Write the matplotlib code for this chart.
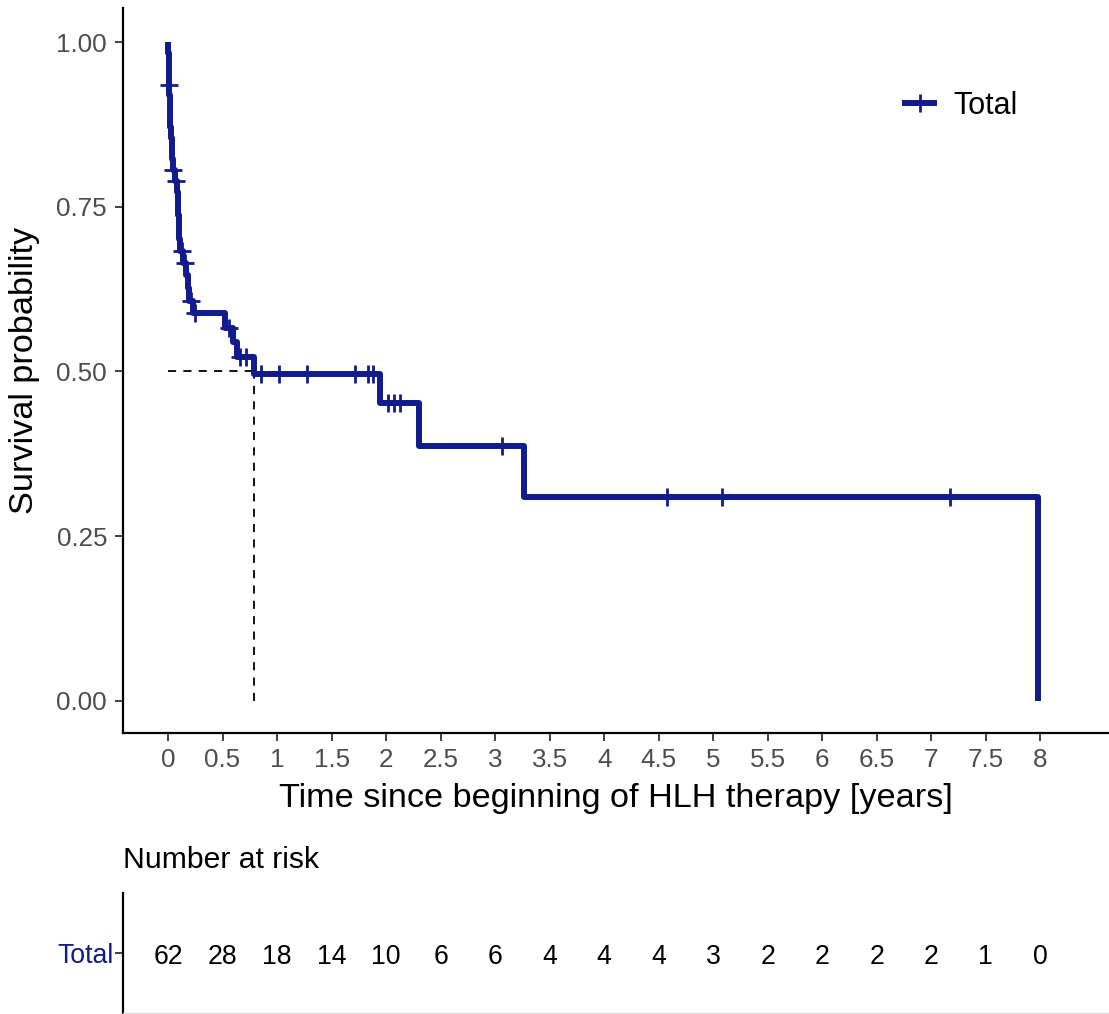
import matplotlib
matplotlib.use("Agg")
import matplotlib.pyplot as plt
import numpy as np

plt.rcParams['font.family'] = ['Liberation Sans', 'DejaVu Sans']

# Kaplan-Meier step curve (time in years, survival after the step)
step_times = [0.000, 0.003, 0.005, 0.007, 0.009, 0.012, 0.015, 0.018, 0.021, 0.025,
              0.032, 0.040, 0.048, 0.060, 0.080, 0.088, 0.094, 0.099, 0.104, 0.110,
              0.140, 0.165, 0.180, 0.195, 0.225, 0.523, 0.600, 0.630, 0.790, 1.940,
              2.300, 3.260, 7.980]
step_surv = [1.000, 0.984, 0.968, 0.952, 0.935, 0.919, 0.903, 0.887, 0.871, 0.855,
             0.839, 0.822, 0.806, 0.789, 0.772, 0.754, 0.737, 0.719, 0.701, 0.683,
             0.665, 0.646, 0.627, 0.607, 0.588, 0.566, 0.545, 0.522, 0.496, 0.452,
             0.387, 0.309, 0.000]

# censoring times
censor_times = [0.010, 0.050, 0.075, 0.130, 0.155, 0.210, 0.245, 0.560, 0.660, 0.715,
                0.850, 1.020, 1.270, 1.710, 1.830, 1.880, 2.020, 2.070, 2.130, 3.060,
                4.580, 5.080, 7.170]

median_time = 0.79

risk_times = [0, 0.5, 1, 1.5, 2, 2.5, 3, 3.5, 4, 4.5, 5, 5.5, 6, 6.5, 7, 7.5, 8]
risk_counts = [62, 28, 18, 14, 10, 6, 6, 4, 4, 4, 3, 2, 2, 2, 2, 1, 0]

x_ticks = [0, 0.5, 1, 1.5, 2, 2.5, 3, 3.5, 4, 4.5, 5, 5.5, 6, 6.5, 7, 7.5, 8]
x_tick_labels = ['0', '0.5', '1', '1.5', '2', '2.5', '3', '3.5', '4', '4.5', '5',
                 '5.5', '6', '6.5', '7', '7.5', '8']
y_ticks = [0, 0.25, 0.5, 0.75, 1.0]
y_tick_labels = ['0.00', '0.25', '0.50', '0.75', '1.00']

color = '#111B8C'
tick_gray = '#4D4D4D'

W, H = 1109, 1014
fig = plt.figure(figsize=(W / 100, H / 100), dpi=100)

def fx(px):
    return px / W

def fy(py):
    return 1 - py / H

ax = fig.add_axes([fx(123), fy(733), fx(1108) - fx(123), fy(8) - fy(733)])
xmin, xmax = -0.413, 8.62
ax.set_xlim(xmin, xmax)
ax.set_ylim(-0.0486, 1.0516)

def surv_at(t):
    idx = np.searchsorted(step_times, t, side='right') - 1
    return step_surv[max(idx, 0)]

ax.step(step_times, step_surv, where='post', color=color, lw=4.3,
        solid_joinstyle='round', solid_capstyle='butt', zorder=3)
cs = [surv_at(t) for t in censor_times]
ax.plot(censor_times, cs, linestyle='none', marker='+', markersize=13,
        markeredgewidth=2, color=color, zorder=4)

ax.plot([0, median_time], [0.5, 0.5], color='black', lw=1.3, ls=(0, (4.5, 4)), zorder=2)
ax.plot([median_time, median_time], [0, 0.5], color='black', lw=1.3, ls=(0, (4.5, 4)), zorder=2)

ax.set_xticks(x_ticks)
ax.set_xticklabels(x_tick_labels)
ax.set_yticks(y_ticks)
ax.set_yticklabels(y_tick_labels)
ax.tick_params(axis='both', labelsize=18.7, colors='#333333', labelcolor=tick_gray,
               length=5.5, width=1.3, direction='out')
ax.tick_params(axis='y', pad=6)
ax.tick_params(axis='x', pad=5)
for s in ['top', 'right']:
    ax.spines[s].set_visible(False)
for s in ['left', 'bottom']:
    ax.spines[s].set_linewidth(1.6)

ax.set_xlabel('Time since beginning of HLH therapy [years]', fontsize=24.7, labelpad=8)
ax.set_ylabel('Survival probability', fontsize=24.7, labelpad=12)

leg_handle = matplotlib.lines.Line2D([], [], color=color, lw=4.3, marker='+',
                                     markersize=13, markeredgewidth=2)
leg = ax.legend([leg_handle], ['Total'], loc='center left', frameon=False, fontsize=22,
                handlelength=0.95, handletextpad=0.62, borderpad=0, borderaxespad=0)
leg.set_bbox_to_anchor((fx(905), fy(106)), transform=fig.transFigure)

# risk table
rt = fig.add_axes([fx(123), fy(1013), fx(1108) - fx(123), fy(893) - fy(1013)])
rt.set_xlim(xmin, xmax)
rt.set_ylim(0, 1)
for t, n in zip(risk_times, risk_counts):
    rt.text(t, 0.47, str(n), ha='center', va='center', fontsize=19.2)
rt.set_xticks([])
rt.set_yticks([0.5])
rt.set_yticklabels(['Total'])
rt.tick_params(axis='y', labelsize=19.2, labelcolor=color, colors='#333333',
               length=5.5, width=1.3, pad=1)
for s in ['top', 'right']:
    rt.spines[s].set_visible(False)
rt.spines['left'].set_linewidth(1.6)
rt.spines['bottom'].set_color('#D9D9D9')
rt.spines['bottom'].set_linewidth(1.0)

fig.text(fx(123), fy(860), 'Number at risk', ha='left', va='center', fontsize=21.7)

fig.savefig('out.png', dpi=100)
